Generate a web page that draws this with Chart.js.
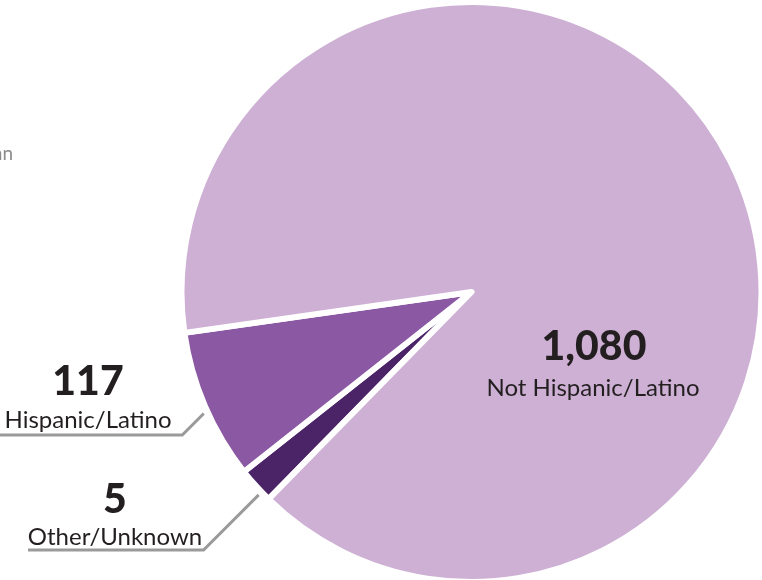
<!DOCTYPE html>
<html>
<head>
<meta charset="utf-8">
<script src="https://cdn.jsdelivr.net/npm/chart.js@4/dist/chart.umd.min.js"></script>
<style>
  html, body { margin: 0; padding: 0; background: #ffffff; }
  #wrap { position: relative; width: 762px; height: 580px; overflow: hidden; }
</style>
</head>
<body>
<div id="wrap"><canvas id="c" width="762" height="580"></canvas></div>
<script>
// ---- Data ----
const categories = ["Other/Unknown", "Hispanic/Latino", "Not Hispanic/Latino"];
const counts = [5, 117, 1080];                 // values printed on the chart
const countLabels = ["5", "117", "1,080"];
const arcDegrees = [7.3, 30.2, 322.5];         // slice sizes as drawn in the picture (degrees)
const sliceColors = ["#4b2467", "#8b58a3", "#cdb0d4"];
const clippedText = "an";

// ---- Label / annotation plugin ----
const labelPlugin = {
  id: 'pieLabels',
  afterDatasetsDraw(chart) {
    const ctx = chart.ctx;
    const arcs = chart.getDatasetMeta(0).data;
    ctx.save();

    // clipped fragment of text at left
    ctx.fillStyle = '#8c8c8c';
    ctx.font = '400 19px Lato, "Open Sans", sans-serif';
    ctx.textAlign = 'right';
    ctx.textBaseline = 'alphabetic';
    ctx.fillText(clippedText, 13, 160);

    // leader lines for small slices
    const leaders = {
      0: { frac: 0.27, extra: 4, elbowY: 550, endX: 28, numX: 115, numY: 513, txtY: 545 },
      1: { frac: 0.46, extra: 4, elbowY: 435, endX: -5, numX: 88, numY: 395, txtY: 428 }
    };
    Object.keys(leaders).forEach(k => {
      const i = +k, L = leaders[k];
      const a = arcs[i];
      const p = a.getProps(['x', 'y', 'startAngle', 'endAngle', 'outerRadius'], true);
      const ang = p.startAngle + (p.endAngle - p.startAngle) * L.frac;
      const r = p.outerRadius + L.extra;
      const sx = p.x + Math.cos(ang) * r;
      const sy = p.y + Math.sin(ang) * r;
      const d = L.elbowY - sy;
      const ex = sx - d;
      ctx.strokeStyle = '#9a9a9a';
      ctx.lineWidth = 3;
      ctx.lineJoin = 'miter';
      ctx.beginPath();
      ctx.moveTo(sx, sy);
      ctx.lineTo(ex, L.elbowY);
      ctx.lineTo(L.endX, L.elbowY);
      ctx.stroke();

      ctx.fillStyle = '#231f20';
      ctx.textAlign = 'center';
      ctx.font = '900 41px Lato, "Open Sans", sans-serif';
      ctx.fillText(countLabels[i], L.numX, L.numY);
      ctx.font = '400 24px Lato, "Open Sans", sans-serif';
      ctx.fillText(categories[i], L.numX, L.txtY);
    });

    // big slice label inside
    ctx.fillStyle = '#231f20';
    ctx.textAlign = 'center';
    ctx.font = '900 41px Lato, "Open Sans", sans-serif';
    ctx.fillText(countLabels[2], 594, 360);
    ctx.font = '400 24px Lato, "Open Sans", sans-serif';
    ctx.fillText(categories[2], 593, 396);

    ctx.restore();
  }
};

new Chart(document.getElementById('c'), {
  type: 'pie',
  data: {
    labels: categories,
    datasets: [{
      data: arcDegrees,
      backgroundColor: sliceColors,
      borderColor: '#ffffff',
      borderWidth: 6,
      borderJoinStyle: 'round',
      clip: false
    }]
  },
  options: {
    responsive: false,
    animation: false,
    rotation: 224.4,
    radius: 290,
    layout: { padding: { left: 181, right: 0, top: 4, bottom: 0 } },
    plugins: {
      legend: { display: false },
      tooltip: { enabled: false }
    }
  },
  plugins: [labelPlugin]
});
</script>
</body>
</html>
